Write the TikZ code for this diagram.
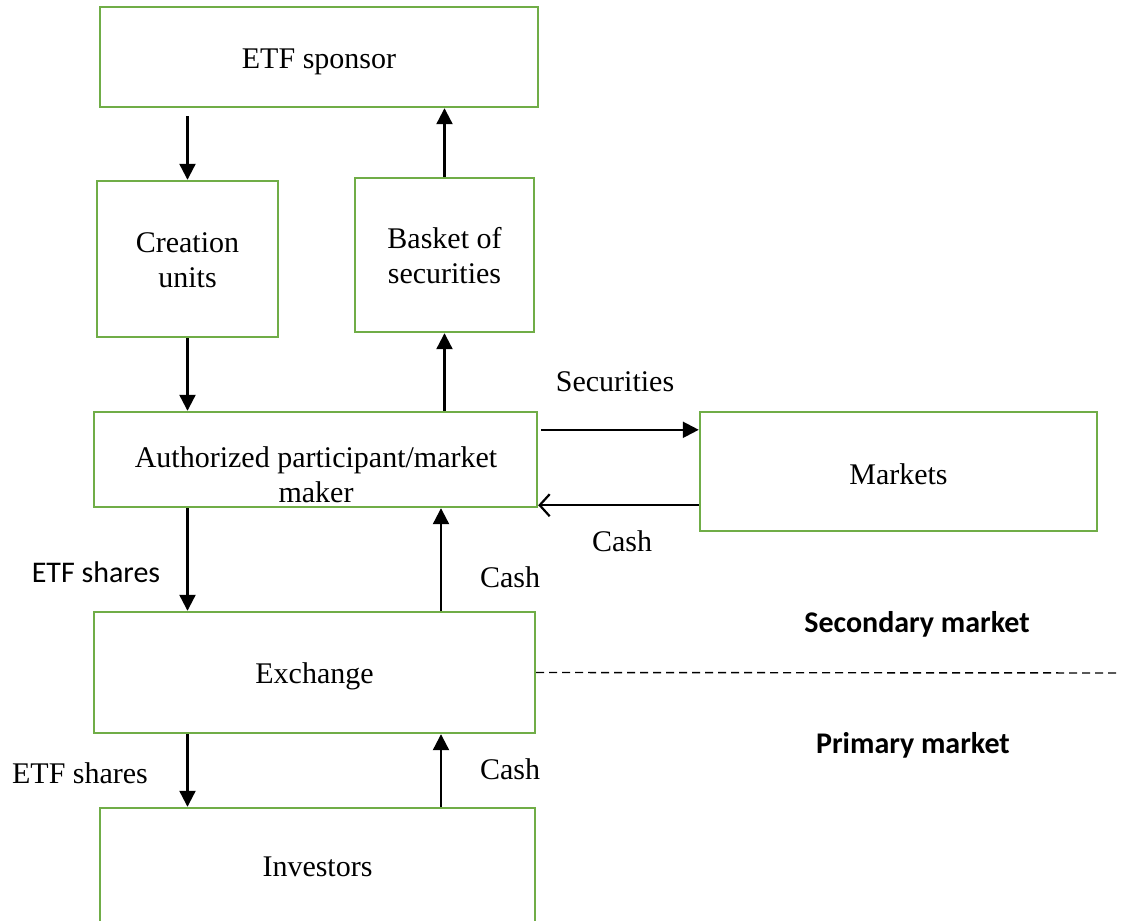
\documentclass[tikz,border=0pt]{standalone}
\usepackage{fontspec}
\setmainfont{Liberation Serif}
\newfontfamily\calibrifont{Carlito}
\usetikzlibrary{arrows.meta}
\definecolor{boxgreen}{RGB}{112,173,71}
\begin{document}
\begin{tikzpicture}[x=0.5pt,y=-0.5pt,
  box/.style={draw=boxgreen,line width=1.2pt,rectangle,inner sep=0pt},
  txt/.style={inner sep=0pt,align=center,font=\fontsize{15}{17.5}\selectfont},
  sans/.style={inner sep=0pt,font=\calibrifont\fontsize{15}{18}\selectfont},
  sansb/.style={inner sep=0pt,font=\calibrifont\bfseries\fontsize{15}{18}\selectfont},
  arr/.style={line width=1.1pt,-{Triangle[length=8pt,width=8pt]}},
  barb/.style={line width=1.1pt,-{Straight Barb[length=5pt,width=11pt,line width=1.1pt]}}]
\useasboundingbox (0,0) rectangle (1121,921);
% boxes
\node[box,minimum width=219pt,minimum height=50pt] (spon) at (319,57) {};
\node[box,minimum width=90.5pt,minimum height=78pt] (cu) at (187.5,259) {};
\node[box,minimum width=89.5pt,minimum height=77pt] (bs) at (444.5,255) {};
\node[box,minimum width=221.5pt,minimum height=47.5pt] (ap) at (315.5,459.5) {};
\node[box,minimum width=198.5pt,minimum height=59.5pt] (mk) at (898.5,471.5) {};
\node[box,minimum width=220.5pt,minimum height=60.5pt] (ex) at (314.5,672.5) {};
\node[box,minimum width=217.5pt,minimum height=61pt] (inv) at (317.5,869) {};
% box texts
\node[txt] (spontxt) at ([yshift=-2.5pt]spon.center) {ETF sponsor};
\node[txt] (cutxt) at ([yshift=-0.5pt]cu.center) {Creation\\units};
\node[txt] (bstxt) at ([yshift=-0.5pt]bs.center) {Basket of\\securities};
\node[txt] (aptxt) at (316,475) {Authorized participant/market\\maker};
\node[txt] (mktxt) at ([yshift=-1.5pt]mk.center) {Markets};
\node[txt] (extxt) at ([yshift=-2pt]ex.center) {Exchange};
\node[txt] (invtxt) at (317.5,867) {Investors};
% coordinates
\coordinate (rx) at (441,600);
\coordinate (mkA) at ([yshift=-9.5pt]mk.north west);
\coordinate (mkB) at ([yshift=13.5pt]mk.south west);
\coordinate (dashend) at (1121,673);
% arrows
\draw[arr,shorten <=4pt] (cu.north |- spon.south) -- (cu.north);
\draw[arr] (bs.north) -- (bs.north |- spon.south);
\draw[arr] (cu.south) -- (cu.south |- ap.north);
\draw[arr] (bs.south |- ap.north) -- (bs.south);
\draw[arr] ([xshift=1.5pt]ap.east |- mkA) -- (mkA);
\draw[barb] (mkB) -- (ap.east |- mkB);
\draw[arr] (cu.south |- ap.south) -- (cu.south |- ex.north);
\draw[arr] (rx |- ex.north) -- (rx |- ap.south);
\draw[arr] (cu.south |- ex.south) -- (cu.south |- inv.north);
\draw[arr] (rx |- inv.north) -- (rx |- ex.south);
\draw[line width=0.7pt,dash pattern=on 4pt off 2.5pt] (ex.east) -- (dashend);
% labels
\node[txt] (lsec) at (615,382) {Securities};
\node[txt] (lcash1) at (622,541) {Cash};
\node[sans] (letf1) at (96,572) {ETF shares};
\node[txt] (lcash2) at (510,577) {Cash};
\node[sansb] (lsecm) at (917,624) {Secondary market};
\node[sansb] (lprim) at (913,745) {Primary market};
\node[txt] (letf2) at (80,773) {ETF shares};
\node[txt] (lcash3) at (510,769) {Cash};
\end{tikzpicture}
\end{document}
